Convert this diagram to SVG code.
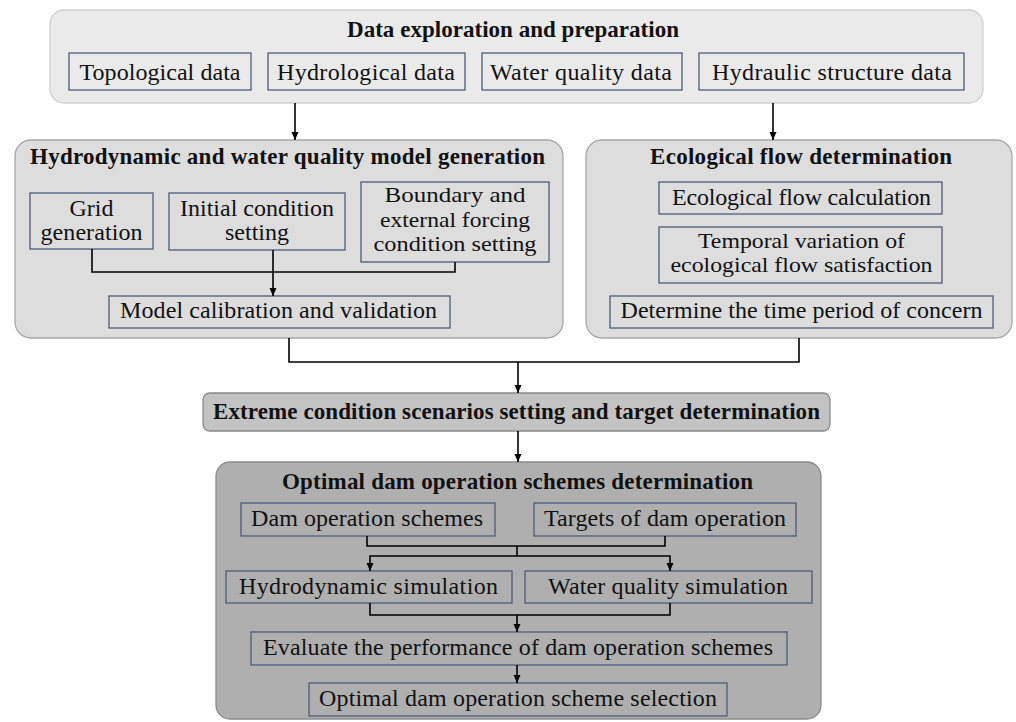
<svg xmlns="http://www.w3.org/2000/svg" width="1016" height="722" viewBox="0 0 1016 722">
<defs>
<marker id="ah" markerUnits="userSpaceOnUse" markerWidth="8" markerHeight="8" viewBox="0 0 8 7" refX="8" refY="3.5" orient="auto">
<path d="M0,0 L8,3.5 L0,7 z" fill="#000"/>
</marker>
</defs>
<style>
text{font-family:"Liberation Serif","Times New Roman",serif;fill:#111;text-anchor:middle}
.t{font-size:23px;font-weight:bold}
.b{font-size:24px}
.m{font-size:22px}
.sub{fill:none;stroke:#4d5c78;stroke-width:1.3}
.c1{fill:#eaeaea;stroke:#cfcfcf;stroke-width:1.3}
.c2{fill:#dddddd;stroke:#a8a8a8;stroke-width:1.3}
.c3{fill:#c3c3c3;stroke:#8a8a8a;stroke-width:1.3}
.c4{fill:#afafaf;stroke:#8c8c8c;stroke-width:1.3}
.ln{fill:none;stroke:#000;stroke-width:1.6}
.ar{fill:none;stroke:#000;stroke-width:1.6;marker-end:url(#ah)}
</style>

<g id="data-preparation">
<rect class="c1" x="50" y="10" width="933" height="93" rx="14"/>
<text class="t" x="513" y="37" textLength="332">Data exploration and preparation</text>
</g>
<g id="topological-data">
<rect class="sub" x="69" y="53" width="182" height="37"/>
<text class="b" x="160" y="80" textLength="161">Topological data</text>
</g>
<g id="hydrological-data">
<rect class="sub" x="268" y="53" width="197" height="37"/>
<text class="b" x="366" y="80" textLength="178">Hydrological data</text>
</g>
<g id="water-quality-data">
<rect class="sub" x="482" y="53" width="200" height="37"/>
<text class="b" x="581" y="80" textLength="182">Water quality data</text>
</g>
<g id="hydraulic-structure-data">
<rect class="sub" x="699" y="53" width="265" height="37"/>
<text class="b" x="832" y="80" textLength="240">Hydraulic structure data</text>
</g>

<g id="model-generation">
<rect class="c2" x="15" y="140" width="548" height="198" rx="16"/>
<text class="t" x="287.5" y="164" textLength="515">Hydrodynamic and water quality model generation</text>
</g>
<g id="grid-generation">
<rect class="sub" x="30" y="193" width="123" height="56"/>
<text class="b" x="91.5" y="216">Grid</text>
<text class="b" x="91.5" y="240" textLength="102">generation</text>
</g>
<g id="initial-condition">
<rect class="sub" x="169" y="193" width="176" height="57"/>
<text class="b" x="257" y="216" textLength="154">Initial condition</text>
<text class="b" x="257" y="240">setting</text>
</g>
<g id="boundary-condition">
<rect class="sub" x="361" y="182" width="188" height="80"/>
<text class="m" x="455" y="202" textLength="141" lengthAdjust="spacingAndGlyphs">Boundary and</text>
<text class="m" x="455" y="226.5" textLength="150" lengthAdjust="spacingAndGlyphs">external forcing</text>
<text class="m" x="455" y="251" textLength="163" lengthAdjust="spacingAndGlyphs">condition setting</text>
</g>
<g id="model-calibration">
<rect class="sub" x="109" y="296" width="341" height="32"/>
<text class="b" x="278.5" y="318" textLength="317">Model calibration and validation</text>
</g>

<g id="ecological-flow">
<rect class="c2" x="586" y="140" width="426" height="198" rx="16"/>
<text class="t" x="801" y="164" textLength="302">Ecological flow determination</text>
</g>
<g id="eco-flow-calculation">
<rect class="sub" x="659" y="182" width="283" height="32"/>
<text class="b" x="801.5" y="205" textLength="259">Ecological flow calculation</text>
</g>
<g id="temporal-variation">
<rect class="sub" x="659" y="227" width="283" height="56"/>
<text class="m" x="801.5" y="247.5" textLength="207" lengthAdjust="spacingAndGlyphs">Temporal variation of</text>
<text class="m" x="801.5" y="272" textLength="262" lengthAdjust="spacingAndGlyphs">ecological flow satisfaction</text>
</g>
<g id="time-period">
<rect class="sub" x="610" y="296" width="383" height="32"/>
<text class="b" x="801.5" y="318" textLength="362">Determine the time period of concern</text>
</g>

<g id="extreme-scenarios">
<rect class="c3" x="203" y="393" width="627" height="38" rx="7"/>
<text class="t" x="516.5" y="419" textLength="607">Extreme condition scenarios setting and target determination</text>
</g>

<g id="optimal-determination">
<rect class="c4" x="216" y="462" width="605" height="257" rx="14"/>
<text class="t" x="517.5" y="489" textLength="471">Optimal dam operation schemes determination</text>
</g>
<g id="dam-schemes">
<rect class="sub" x="241" y="503" width="254" height="33"/>
<text class="b" x="367" y="526" textLength="232">Dam operation schemes</text>
</g>
<g id="dam-targets">
<rect class="sub" x="534" y="503" width="262" height="33"/>
<text class="b" x="665" y="526" textLength="242">Targets of dam operation</text>
</g>
<g id="hydrodynamic-simulation">
<rect class="sub" x="226" y="571" width="286" height="32"/>
<text class="b" x="368.5" y="594" textLength="259">Hydrodynamic simulation</text>
</g>
<g id="water-quality-simulation">
<rect class="sub" x="525" y="571" width="287" height="32"/>
<text class="b" x="668" y="594" textLength="240">Water quality simulation</text>
</g>
<g id="evaluate-performance">
<rect class="sub" x="251" y="632" width="536" height="33"/>
<text class="b" x="518" y="655" textLength="510">Evaluate the performance of dam operation schemes</text>
</g>
<g id="scheme-selection">
<rect class="sub" x="309" y="683" width="418" height="33"/>
<text class="b" x="518" y="706" textLength="398">Optimal dam operation scheme selection</text>
</g>

<g id="connectors">
<path class="ar" d="M295,103 V140"/>
<path class="ar" d="M773,103 V140"/>
<path class="ln" d="M92,249 V272 H455 V262"/>
<path class="ar" d="M273,250 V296"/>
<path class="ln" d="M289,338 V362 H799 V338"/>
<path class="ar" d="M518,362 V393"/>
<path class="ar" d="M518,431 V462"/>
<path class="ln" d="M367,536 V546 H665 V536"/>
<path class="ln" d="M517,546 V556"/>
<path class="ar" d="M517,556 H370 V571"/>
<path class="ar" d="M517,556 H670 V571"/>
<path class="ln" d="M370,603 V615 H670 V603"/>
<path class="ar" d="M517,615 V632"/>
<path class="ar" d="M517,665 V683"/>
</g>
</svg>
